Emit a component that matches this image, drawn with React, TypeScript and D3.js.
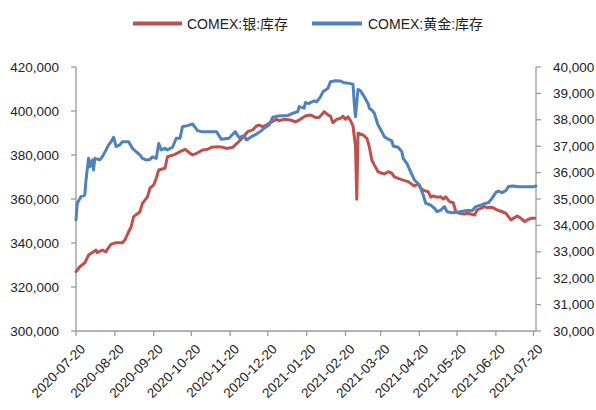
import React from 'react';
import * as d3 from 'd3';

const xTickDates = [
  '2020-07-20', '2020-08-20', '2020-09-20', '2020-10-20', '2020-11-20', '2020-12-20',
  '2021-01-20', '2021-02-20', '2021-03-20', '2021-04-20', '2021-05-20', '2021-06-20', '2021-07-20',
];
const leftTicks = [300000, 320000, 340000, 360000, 380000, 400000, 420000];
const rightTicks = [30000, 31000, 32000, 33000, 34000, 35000, 36000, 37000, 38000, 39000, 40000];

const seriesNames = ['COMEX:银:库存', 'COMEX:黄金:库存'];

const silverDates = [
  '2020-07-20', '2020-07-23', '2020-07-27', '2020-07-30', '2020-08-03', '2020-08-05', '2020-08-06', '2020-08-10',
  '2020-08-13', '2020-08-14', '2020-08-17', '2020-08-21', '2020-08-26', '2020-08-28', '2020-08-31', '2020-09-02',
  '2020-09-04', '2020-09-09', '2020-09-11', '2020-09-15', '2020-09-17', '2020-09-20', '2020-09-22', '2020-09-24',
  '2020-09-29', '2020-10-01', '2020-10-07', '2020-10-11', '2020-10-15', '2020-10-19', '2020-10-21', '2020-10-25',
  '2020-10-29', '2020-11-02', '2020-11-05', '2020-11-10', '2020-11-14', '2020-11-17', '2020-11-22', '2020-11-26',
  '2020-11-30', '2020-12-04', '2020-12-08', '2020-12-11', '2020-12-13', '2020-12-16', '2020-12-19', '2020-12-23',
  '2020-12-27', '2020-12-29', '2021-01-02', '2021-01-07', '2021-01-11', '2021-01-15', '2021-01-19', '2021-01-23',
  '2021-01-27', '2021-01-30', '2021-02-03', '2021-02-06', '2021-02-08', '2021-02-10', '2021-02-13', '2021-02-16',
  '2021-02-18', '2021-02-20', '2021-02-22', '2021-02-24', '2021-02-26', '2021-02-28', '2021-03-01', '2021-03-02',
  '2021-03-06', '2021-03-09', '2021-03-11', '2021-03-13', '2021-03-15', '2021-03-18', '2021-03-21', '2021-03-23',
  '2021-03-26', '2021-03-29', '2021-03-31', '2021-04-03', '2021-04-07', '2021-04-11', '2021-04-13', '2021-04-16',
  '2021-04-19', '2021-04-21', '2021-04-24', '2021-04-27', '2021-04-29', '2021-05-01', '2021-05-04', '2021-05-07',
  '2021-05-09', '2021-05-11', '2021-05-14', '2021-05-17', '2021-05-19', '2021-05-22', '2021-05-26', '2021-05-28',
  '2021-05-31', '2021-06-03', '2021-06-05', '2021-06-08', '2021-06-11', '2021-06-13', '2021-06-17', '2021-06-21',
  '2021-06-25', '2021-06-28', '2021-06-30', '2021-07-02', '2021-07-04', '2021-07-07', '2021-07-10', '2021-07-13',
  '2021-07-15', '2021-07-18', '2021-07-21',
];
const silverValues = [
  327000, 329200, 331000, 334500, 336000, 336800, 335600, 336800,
  336000, 337100, 339500, 340100, 340100, 341400, 345100, 347400,
  352000, 354200, 358000, 361000, 364900, 366400, 369400, 373200,
  374000, 379200, 380300, 381500, 382600, 380800, 380000, 381000,
  382300, 382600, 383500, 383800, 383500, 383000, 383500, 385600,
  388000, 390600, 391400, 393200, 393600, 392900, 393600, 395100,
  396200, 395600, 396200, 395900, 395100, 396200, 397700, 398200,
  397100, 397100, 399700, 398200, 397700, 394700, 396200, 396700,
  397700, 396200, 397400, 395600, 393200, 383800, 359900, 389900,
  389100, 387600, 383800, 377700, 375500, 372400, 371700, 371400,
  372400, 371700, 370100, 369400, 368600, 367900, 367100, 365900,
  366800, 364900, 363800, 363300, 360800, 361400, 360800, 361000,
  360000, 361000, 358800, 358300, 354200, 353500, 353200, 353500,
  353200, 352700, 355000, 355800, 356500, 356100, 356200, 355000,
  354200, 353500, 352000, 350500, 351200, 352300, 351200, 349700,
  350500, 351200, 351200,
];

const goldDates = [
  '2020-07-20', '2020-07-21', '2020-07-24', '2020-07-27', '2020-07-28', '2020-07-30', '2020-07-31', '2020-08-02',
  '2020-08-03', '2020-08-04', '2020-08-08', '2020-08-10', '2020-08-13', '2020-08-15', '2020-08-17', '2020-08-19',
  '2020-08-21', '2020-08-24', '2020-08-26', '2020-08-31', '2020-09-03', '2020-09-06', '2020-09-09', '2020-09-11',
  '2020-09-14', '2020-09-17', '2020-09-19', '2020-09-22', '2020-09-24', '2020-09-26', '2020-09-29', '2020-10-01',
  '2020-10-05', '2020-10-08', '2020-10-11', '2020-10-13', '2020-10-17', '2020-10-21', '2020-10-25', '2020-10-28',
  '2020-11-09', '2020-11-13', '2020-11-19', '2020-11-24', '2020-11-27', '2020-12-01', '2020-12-03', '2020-12-07',
  '2020-12-11', '2020-12-15', '2020-12-17', '2020-12-21', '2020-12-24', '2020-12-28', '2021-01-05', '2021-01-09',
  '2021-01-13', '2021-01-14', '2021-01-18', '2021-01-19', '2021-01-22', '2021-01-26', '2021-01-28', '2021-01-31',
  '2021-02-02', '2021-02-06', '2021-02-08', '2021-02-12', '2021-02-16', '2021-02-19', '2021-02-23', '2021-02-26',
  '2021-02-27', '2021-02-28', '2021-03-02', '2021-03-04', '2021-03-07', '2021-03-10', '2021-03-11', '2021-03-13',
  '2021-03-15', '2021-03-18', '2021-03-21', '2021-03-23', '2021-03-26', '2021-03-29', '2021-03-30', '2021-04-03',
  '2021-04-06', '2021-04-07', '2021-04-10', '2021-04-13', '2021-04-16', '2021-04-20', '2021-04-23', '2021-04-25',
  '2021-04-29', '2021-05-02', '2021-05-04', '2021-05-07', '2021-05-10', '2021-05-12', '2021-05-16', '2021-05-22',
  '2021-05-27', '2021-06-01', '2021-06-04', '2021-06-08', '2021-06-12', '2021-06-14', '2021-06-17', '2021-06-20',
  '2021-06-22', '2021-06-25', '2021-06-28', '2021-06-30', '2021-07-04', '2021-07-08', '2021-07-19', '2021-07-22',
];
const goldValues = [
  34210, 34840, 35090, 35150, 35720, 36540, 36220, 36480,
  36100, 36540, 36480, 36600, 36860, 37050, 37170, 37340,
  36980, 37050, 37170, 37170, 36920, 36790, 36670, 36540,
  36480, 36500, 36600, 36540, 37100, 36860, 36920, 36860,
  36960, 37300, 37300, 37740, 37780, 37840, 37590, 37550,
  37550, 37260, 37300, 37550, 37330, 37390, 37240, 37360,
  37460, 37590, 37680, 37800, 38100, 38140, 38160, 38250,
  38310, 38500, 38440, 38650, 38620, 38720, 38680, 38870,
  39060, 39190, 39440, 39480, 39470, 39400, 39380, 39350,
  38620, 38120, 39150, 39100, 38870, 38620, 38440, 38370,
  38250, 37800, 37550, 37360, 37270, 37200, 37010, 36960,
  36790, 36540, 36350, 36030, 35720, 35530, 35150, 34840,
  34770, 34650, 34520, 34580, 34710, 34520, 34480, 34520,
  34560, 34560, 34710, 34770, 34840, 34860, 35030, 35250,
  35300, 35240, 35320, 35470, 35490, 35460, 35460, 35490,
];

const parseDate = d3.timeParse('%Y-%m-%d');
const fmt = d3.format(',');

const RED = '#C0504D';
const BLUE = '#4F81BD';
const AXIS = '#9A9A9A';
const FONT = '"Liberation Sans", "Noto Sans CJK SC", sans-serif';

export default function App() {
  const W = 596;
  const H = 410;
  const left = 76;
  const right = 536;
  const top = 67;
  const bottom = 331;

  const x = d3.scaleTime()
    .domain([parseDate('2020-07-20') as Date, parseDate('2021-07-22') as Date])
    .range([left, right]);
  const yL = d3.scaleLinear().domain([300000, 420000]).range([bottom, top]);
  const yR = d3.scaleLinear().domain([30000, 40000]).range([bottom, top]);

  const silver = silverDates.map((d, i) => ({ d: parseDate(d) as Date, v: silverValues[i] }));
  const gold = goldDates.map((d, i) => ({ d: parseDate(d) as Date, v: goldValues[i] }));

  const silverLine = d3.line<{ d: Date; v: number }>().x((p) => x(p.d)).y((p) => yL(p.v));
  const goldLine = d3.line<{ d: Date; v: number }>().x((p) => x(p.d)).y((p) => yR(p.v));

  return (
    <svg width={W} height={H} style={{ position: 'absolute', left: 0, top: 0, background: '#fff' }} fontFamily={FONT}>
      {/* legend */}
      <line x1={133} x2={182} y1={23.5} y2={23.5} stroke={RED} strokeWidth={4} />
      <text x={187} y={23.5} dominantBaseline="central" fontSize={14} fill="#222">{seriesNames[0]}</text>
      <line x1={312} x2={362} y1={23.5} y2={23.5} stroke={BLUE} strokeWidth={4} />
      <text x={368} y={23.5} dominantBaseline="central" fontSize={14} fill="#222">{seriesNames[1]}</text>

      {/* left axis */}
      <line x1={left} x2={left} y1={top} y2={bottom} stroke={AXIS} strokeWidth={1.3} />
      {leftTicks.map((t) => (
        <g key={'l' + t}>
          <line x1={left - 5} x2={left} y1={yL(t)} y2={yL(t)} stroke={AXIS} strokeWidth={1.3} />
          <text x={59} y={yL(t)} textAnchor="end" dominantBaseline="central" fontSize={13.5} fill="#222">{fmt(t)}</text>
        </g>
      ))}

      {/* right axis */}
      <line x1={right} x2={right} y1={top} y2={bottom} stroke={AXIS} strokeWidth={1.3} />
      {rightTicks.map((t) => (
        <g key={'r' + t}>
          <line x1={right} x2={right + 5} y1={yR(t)} y2={yR(t)} stroke={AXIS} strokeWidth={1.3} />
          <text x={553} y={yR(t)} textAnchor="start" dominantBaseline="central" fontSize={13.5} fill="#222">{fmt(t)}</text>
        </g>
      ))}

      {/* bottom axis */}
      <line x1={left} x2={right} y1={bottom} y2={bottom} stroke={AXIS} strokeWidth={1.3} />
      {xTickDates.map((s) => {
        const tx = x(parseDate(s) as Date);
        return (
          <g key={'x' + s}>
            <line x1={tx} x2={tx} y1={bottom} y2={bottom + 5} stroke={AXIS} strokeWidth={1.3} />
            <text
              transform={`translate(${tx + 10},${bottom + 19}) rotate(-45)`}
              textAnchor="end"
              fontSize={13.5}
              fill="#222"
            >
              {s}
            </text>
          </g>
        );
      })}

      {/* series */}
      <path d={silverLine(silver) || ''} fill="none" stroke={RED} strokeWidth={3} strokeLinejoin="round" strokeLinecap="round" />
      <path d={goldLine(gold) || ''} fill="none" stroke={BLUE} strokeWidth={3} strokeLinejoin="round" strokeLinecap="round" />
    </svg>
  );
}
